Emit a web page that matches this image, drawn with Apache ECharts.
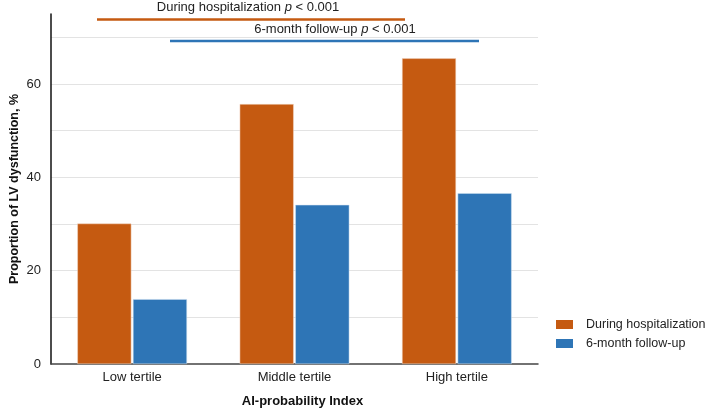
<!DOCTYPE html>
<html>
<head>
<meta charset="utf-8">
<script src="https://cdn.jsdelivr.net/npm/echarts@6/dist/echarts.min.js"></script>
<style>
  html, body { margin: 0; padding: 0; background: #fff; }
  #chart { width: 708px; height: 408px; }
</style>
</head>
<body>
<div id="chart"></div>
<script>
const categories = ['Low tertile', 'Middle tertile', 'High tertile'];
const seriesNames = ['During hospitalization', '6-month follow-up'];
const hospitalization = [30.1, 55.7, 65.5];
const followUp = [13.9, 34.1, 36.6];
const annotations = ['During hospitalization', '6-month follow-up'];

const orange = '#C55A11';
const blue = '#2E75B6';
const font = 'Liberation Sans, Arial, sans-serif';

const chart = echarts.init(document.getElementById('chart'));

const option = {
  animation: false,
  textStyle: { fontFamily: font },
  grid: { left: 51, right: 170, top: 14, bottom: 44, containLabel: false, outerBoundsMode: 'none' },
  legend: {
    orient: 'vertical',
    left: 556,
    top: 318,
    padding: 0,
    itemWidth: 17,
    itemHeight: 9,
    itemGap: 6,
    icon: 'rect',
    itemStyle: { borderWidth: 0 },
    textStyle: { fontSize: 12.5, color: '#222', padding: [0, 0, 0, 8] },
    data: seriesNames
  },
  xAxis: {
    type: 'category',
    data: categories,
    name: 'AI-probability Index',
    nameLocation: 'middle',
    nameGap: 31,
    nameMoveOverlap: false,
    nameTextStyle: { fontSize: 13, fontWeight: 'bold', color: '#111', padding: [0, 0, 0, 16] },
    axisLine: { lineStyle: { color: '#444', width: 1.5 } },
    axisTick: { show: false },
    axisLabel: { fontSize: 13, color: '#222', margin: 7 }
  },
  yAxis: {
    type: 'value',
    min: 0,
    max: 75,
    interval: 10,
    name: 'Proportion of LV dysfunction, %',
    nameLocation: 'middle',
    nameGap: 30,
    nameMoveOverlap: false,
    nameTextStyle: { fontSize: 12.5, fontWeight: 'bold', color: '#111' },
    axisLine: { show: true, lineStyle: { color: '#111', width: 1.5 } },
    axisTick: { show: false },
    axisLabel: {
      fontSize: 13,
      color: '#222',
      margin: 10,
      showMaxLabel: false,
      formatter: v => (v % 20 === 0 ? String(v) : '')
    },
    splitLine: {
      show: true,
      showMinLine: false,
      showMaxLine: false,
      lineStyle: { color: '#e3e3e3', width: 1 }
    }
  },
  series: [
    {
      name: seriesNames[0],
      type: 'bar',
      data: hospitalization,
      barWidth: 54,
      barGap: '3%',
      itemStyle: { color: orange, borderColor: '#f3d9c6', borderWidth: 0.5 }
    },
    {
      name: seriesNames[1],
      type: 'bar',
      data: followUp,
      barWidth: 54,
      itemStyle: { color: blue, borderColor: '#cfe0f0', borderWidth: 0.5 }
    }
  ],
  graphic: [
    {
      type: 'line',
      shape: { x1: 97, y1: 19.5, x2: 405, y2: 19.5 },
      style: { stroke: orange, lineWidth: 2.5 }
    },
    {
      type: 'line',
      shape: { x1: 170, y1: 41, x2: 479, y2: 41 },
      style: { stroke: blue, lineWidth: 2.5 }
    },
    {
      type: 'text',
      x: 248,
      y: 7,
      style: {
        text: annotations[0] + ' {i|p} < 0.001',
        align: 'center',
        verticalAlign: 'middle',
        fontFamily: font,
        fontSize: 13,
        fill: '#222',
        rich: { i: { fontStyle: 'italic', fontFamily: font, fontSize: 13, fill: '#222' } }
      }
    },
    {
      type: 'text',
      x: 335,
      y: 29.5,
      style: {
        text: annotations[1] + ' {i|p} < 0.001',
        align: 'center',
        verticalAlign: 'middle',
        fontFamily: font,
        fontSize: 13,
        fill: '#222',
        rich: { i: { fontStyle: 'italic', fontFamily: font, fontSize: 13, fill: '#222' } }
      }
    }
  ]
};

chart.setOption(option);
</script>
</body>
</html>
